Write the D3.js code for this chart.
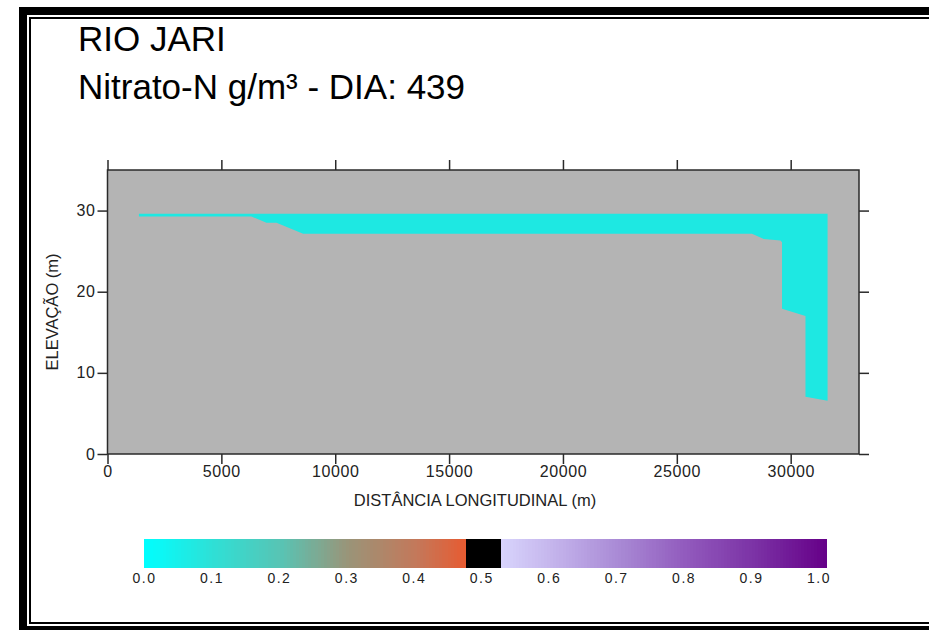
<!DOCTYPE html>
<html>
<head>
<meta charset="utf-8">
<script src="https://cdn.jsdelivr.net/npm/d3@7"></script>
<style>
  html, body { margin: 0; padding: 0; background: #fff; }
  svg { display: block; }
  text { font-family: "Liberation Sans", Arial, sans-serif; }
</style>
</head>
<body>
<svg id="chart" width="929" height="630"></svg>
<script>
// Longitudinal section of the reservoir: water body coloured by nitrate-N
const titleLines = ["RIO JARI", "Nitrato-N g/m³ - DIA: 439"];
const xLabel = "DISTÂNCIA LONGITUDINAL (m)";
const yLabel = "ELEVAÇÃO (m)";

// Axis extents and ticks
const xDomain = [0, 33000];
const yDomain = [0, 35];
const xTicks = [0, 5000, 10000, 15000, 20000, 25000, 30000];
const yTicks = [0, 10, 20, 30];

// Water body: surface elevation and bottom profile along the river (m)
const surfaceElev = 29.6;
const profileDist = [1380, 6320, 6980, 7420, 8590, 28300, 28820, 29550, 29620, 29620, 30650, 30650, 31620];
const bottomElev  = [29.27, 29.27, 28.5, 28.5, 27.15, 27.15, 26.5, 26.3, 26.1, 17.9, 17.0, 7.05, 6.55];
const waterColor = "#1ee8e2";

// Colour scale for nitrate-N (g/m³)
const cbTicks = [0.0, 0.1, 0.2, 0.3, 0.4, 0.5, 0.6, 0.7, 0.8, 0.9, 1.0];
const lowStops  = [0.0, 0.1, 0.2, 0.3, 0.4, 0.4746];
const lowColors = ["#00ffff", "#2ee0d6", "#58c4b4", "#9a9478", "#c4785a", "#e85a30"];
const midBand = [0.4746, 0.5235];
const midColor = "#000000";
const highStops  = [0.5235, 0.6, 0.7, 0.8, 0.9, 1.0];
const highColors = ["#d8d4fc", "#c4b4ec", "#a888d4", "#9058bc", "#7a30a4", "#660088"];

const svg = d3.select("#chart");

// Double page frame
svg.append("rect").attr("x", 23).attr("y", 11).attr("width", 940).attr("height", 619)
  .attr("fill", "none").attr("stroke", "#000").attr("stroke-width", 8);
svg.append("rect").attr("x", 30).attr("y", 18).attr("width", 930).attr("height", 605)
  .attr("fill", "none").attr("stroke", "#000").attr("stroke-width", 2);

// Title
svg.selectAll("text.title").data(titleLines).join("text")
  .attr("class", "title")
  .attr("x", 78).attr("y", (d, i) => 51 + i * 48)
  .attr("font-size", 35).attr("fill", "#000")
  .text(d => d);

// Plot area
const plot = { left: 107.5, right: 859, top: 170, bottom: 454 };
const x = d3.scaleLinear().domain(xDomain).range([plot.left, plot.right]);
const y = d3.scaleLinear().domain(yDomain).range([plot.bottom, plot.top]);

svg.append("rect")
  .attr("x", plot.left).attr("y", plot.top)
  .attr("width", plot.right - plot.left).attr("height", plot.bottom - plot.top)
  .attr("fill", "#b4b4b4");

const profile = profileDist.map((d, i) => ({ d, b: bottomElev[i] }));
const area = d3.area()
  .x(p => x(p.d))
  .y0(p => y(p.b))
  .y1(() => y(surfaceElev));
svg.append("path").datum(profile).attr("d", area).attr("fill", waterColor);

// Axes on all four sides, ticks pointing outward
const tickLen = 10;
const axisColor = "#2a2a2a";
function styleAxis(g) {
  g.select(".domain").remove();
  g.selectAll(".tick line").attr("stroke", axisColor).attr("stroke-width", 1.5);
  g.selectAll(".tick text").attr("fill", "#222").attr("font-size", 16)
    .attr("letter-spacing", 0.6)
    .attr("font-family", "'Liberation Sans', Arial, sans-serif");
}
svg.append("g").attr("transform", `translate(0,${plot.bottom})`)
  .call(d3.axisBottom(x).tickValues(xTicks).tickFormat(d3.format("d")).tickSize(tickLen).tickPadding(2))
  .call(styleAxis);
svg.append("g").attr("transform", `translate(0,${plot.top})`)
  .call(d3.axisTop(x).tickValues(xTicks).tickFormat("").tickSize(tickLen))
  .call(styleAxis);
svg.append("g").attr("transform", `translate(${plot.left},0)`)
  .call(d3.axisLeft(y).tickValues(yTicks).tickFormat(d3.format("d")).tickSize(tickLen).tickPadding(2))
  .call(styleAxis);
svg.append("g").attr("transform", `translate(${plot.right},0)`)
  .call(d3.axisRight(y).tickValues(yTicks).tickFormat("").tickSize(tickLen))
  .call(styleAxis);

// Plot frame
svg.append("rect")
  .attr("x", plot.left).attr("y", plot.top)
  .attr("width", plot.right - plot.left).attr("height", plot.bottom - plot.top)
  .attr("fill", "none").attr("stroke", axisColor).attr("stroke-width", 1.5);

// Axis titles
svg.append("text")
  .attr("x", 475).attr("y", 506)
  .attr("text-anchor", "middle").attr("font-size", 16.5).attr("fill", "#222")
  .text(xLabel);
svg.append("text")
  .attr("transform", `translate(58,${(plot.top + plot.bottom) / 2}) rotate(-90)`)
  .attr("text-anchor", "middle").attr("font-size", 16.5).attr("fill", "#222")
  .text(yLabel);

// Colour bar, drawn as narrow bands
const bar = { left: 144, right: 826, top: 539, bottom: 568 };
const cbX = d3.scaleLinear().domain([0, 1]).range([bar.left, bar.right]);
const lowScale = d3.scaleLinear().domain(lowStops).range(lowColors).interpolate(d3.interpolateRgb);
const highScale = d3.scaleLinear().domain(highStops).range(highColors).interpolate(d3.interpolateRgb);
const nBands = 220;
const bands = d3.range(nBands).map(i => {
  const v0 = i / nBands, v1 = (i + 1) / nBands, vm = (v0 + v1) / 2;
  let c;
  if (vm < midBand[0]) c = lowScale(vm);
  else if (vm < midBand[1]) c = midColor;
  else c = highScale(vm);
  return { v0, v1, c };
});
svg.append("g").selectAll("rect").data(bands).join("rect")
  .attr("x", d => cbX(d.v0)).attr("y", bar.top)
  .attr("width", d => cbX(d.v1) - cbX(d.v0) + 0.6)
  .attr("height", bar.bottom - bar.top)
  .attr("fill", d => d.c)
  .attr("shape-rendering", "crispEdges");

const cbLabelX = d3.scaleLinear().domain([0, 1]).range([143.5, 818]);
svg.append("g").selectAll("text").data(cbTicks).join("text")
  .attr("x", d => cbLabelX(d) + 1).attr("y", 583)
  .attr("text-anchor", "middle").attr("font-size", 14).attr("letter-spacing", 1.5)
  .attr("fill", "#222")
  .text(d => d3.format(".1f")(d));
</script>
</body>
</html>
